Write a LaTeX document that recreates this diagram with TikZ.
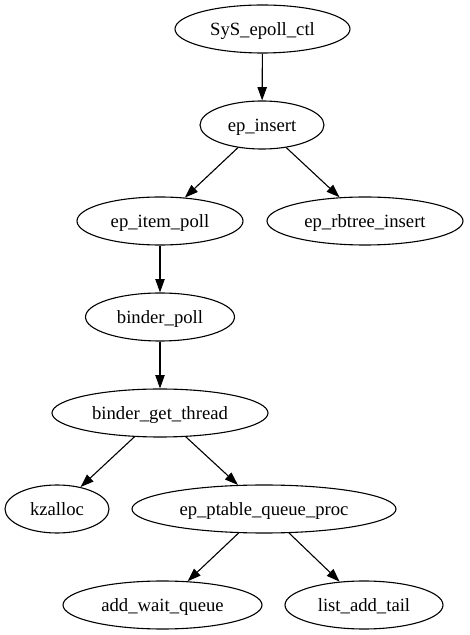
\documentclass[tikz,border=0pt]{standalone}
\usepackage{fontspec}
\setmainfont{Liberation Serif}
\usetikzlibrary{shapes.geometric,arrows.meta}
\begin{document}
\begin{tikzpicture}[x=1pt,y=1pt,
  fn/.style={ellipse,draw,line width=1.1pt,inner sep=0pt,minimum height=48pt,text height=12.4pt,text depth=0pt,font=\fontsize{18.67}{22}\selectfont},
  edge/.style={line width=1.1pt,-{Triangle[length=13.3pt,width=9.3pt]}}]
\useasboundingbox (0,0) rectangle (469,635);
\node[fn,minimum width=175pt] (a) at (262.5,606) {SyS\_epoll\_ctl};
\node[fn,minimum width=124pt] (b) at (262,510) {ep\_insert};
\node[fn,minimum width=166pt] (c) at (160,414) {ep\_item\_poll};
\node[fn,minimum width=196pt] (d) at (365,414) {ep\_rbtree\_insert};
\node[fn,minimum width=149pt] (e) at (160,318) {binder\_poll};
\node[fn,minimum width=216pt] (f) at (160,222) {binder\_get\_thread};
\node[fn,minimum width=104pt] (g) at (57,126) {kzalloc};
\node[fn,minimum width=264pt] (h) at (264,126) {ep\_ptable\_queue\_proc};
\node[fn,minimum width=199pt] (i) at (162.5,30) {add\_wait\_queue};
\node[fn,minimum width=158pt] (j) at (364,30) {list\_add\_tail};
\draw[edge] (a) -- (b);
\draw[edge] (b) -- (c);
\draw[edge] (b) -- (d);
\draw[edge] (c) -- (e);
\draw[edge] (e) -- (f);
\draw[edge] (f) -- (g);
\draw[edge] (f) -- (h);
\draw[edge] (h) -- (i);
\draw[edge] (h) -- (j);
\end{tikzpicture}
\end{document}
